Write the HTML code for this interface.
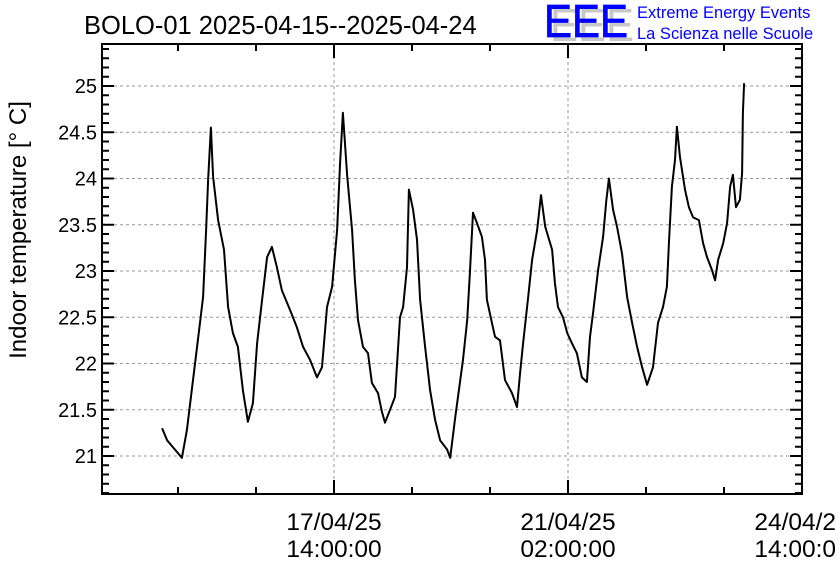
<!DOCTYPE html>
<html><head><meta charset="utf-8"><style>
html,body{margin:0;padding:0;background:#fff;}
svg{display:block;font-family:"Liberation Sans",sans-serif;}
</style></head><body>
<svg id="chart" width="836" height="572" viewBox="0 0 836 572" xmlns="http://www.w3.org/2000/svg">
<rect width="836" height="572" fill="#fff"/>
<text x="84" y="34" font-size="25.5" fill="#000">BOLO-01 2025-04-15--2025-04-24</text>
<g>
<text x="550" y="41" font-size="46" fill="#c8c8c8" textLength="84" lengthAdjust="spacingAndGlyphs">EEE</text>
<text x="544" y="37" font-size="46" fill="#0000ff" stroke="#0000ff" stroke-width="0.8" textLength="84" lengthAdjust="spacingAndGlyphs">EEE</text>
<text x="637" y="18" font-size="16.5" fill="#0000ff">Extreme Energy Events</text>
<text x="637" y="39" font-size="16.5" fill="#0000ff">La Scienza nelle Scuole</text>
</g>
<text transform="translate(26,230) rotate(-90)" text-anchor="middle" font-size="24" fill="#000">Indoor temperature [° C]</text>
<g id="grid"></g>
<g id="axes"></g>
<g id="series"></g>
</svg>
<script>
const hours = [22.3,24.1,26.9,29.4,31.2,33.4,35.9,37.0,38.1,38.8,39.8,40.6,42.4,44.5,46.0,47.7,49.5,51.3,53.1,54.9,56.4,58.2,60.0,61.7,63.5,65.3,68.2,70.7,72.9,75.4,77.9,79.7,81.5,83.3,85.1,86.2,87.2,88.7,90.5,91.5,92.6,94.4,96.2,97.6,99.8,101.2,102.3,104.1,105.9,107.7,108.8,110.2,110.9,112.4,113.8,114.9,116.7,118.5,120.3,122.1,124.6,125.7,127.4,128.5,130.3,131.8,132.8,133.9,135.3,137.1,138.2,138.9,140.7,141.8,143.6,145.4,147.9,149.7,150.8,151.9,153.7,155.1,156.9,158.3,159.8,162.3,163.3,164.4,166.2,167.7,169.4,171.2,173.0,174.8,175.9,177.0,178.8,180.6,181.7,182.7,184.2,185.6,187.4,189.2,191.0,192.8,194.6,196.4,198.5,200.3,202.1,203.5,204.3,205.3,206.4,207.1,208.2,210.0,211.4,212.9,215.0,216.5,217.9,219.7,220.8,221.9,223.7,225.1,226.2,227.2,228.3,229.7,230.5,230.8,231.2];
const temps = [21.30,21.17,21.07,20.98,21.28,21.82,22.44,22.72,23.44,23.98,24.55,24.02,23.55,23.23,22.61,22.33,22.18,21.71,21.37,21.57,22.22,22.69,23.15,23.26,23.04,22.79,22.58,22.39,22.18,22.04,21.85,21.96,22.61,22.83,23.44,24.17,24.71,24.04,23.44,22.90,22.47,22.18,22.11,21.79,21.68,21.48,21.36,21.50,21.64,22.50,22.61,23.04,23.88,23.66,23.34,22.69,22.18,21.71,21.39,21.17,21.07,20.98,21.39,21.64,22.04,22.47,22.98,23.63,23.52,23.37,23.12,22.69,22.44,22.29,22.25,21.82,21.68,21.53,21.90,22.22,22.72,23.12,23.44,23.82,23.48,23.23,22.87,22.61,22.50,22.33,22.22,22.11,21.85,21.80,22.29,22.55,23.01,23.37,23.75,24.00,23.66,23.48,23.19,22.72,22.44,22.18,21.96,21.77,21.96,22.44,22.61,22.83,23.34,23.91,24.20,24.56,24.23,23.88,23.69,23.58,23.55,23.30,23.15,23.01,22.90,23.12,23.30,23.52,23.91,24.04,23.69,23.77,24.06,24.71,25.03];
const yTicks = [21,21.5,22,22.5,23,23.5,24,24.5,25];
const yTickLabels = ["21","21.5","22","22.5","23","23.5","24","24.5","25"];
const xMajor = [84,168,252];
const xMajorLabels1 = ["17/04/25","21/04/25","24/04/25"];
const xMajorLabels2 = ["14:00:00","02:00:00","14:00:00"];
const xMinor = [28,56,112,140,196,224];

const L=102,R=802,T=44,B=494;
const X = h => 100 + h*234/84;
const Y = v => 456 - (v-21)*92.5;
const NS="http://www.w3.org/2000/svg";
function mk(tag, parent, attrs){const e=document.createElementNS(NS,tag);for(const k in attrs)e.setAttribute(k,attrs[k]);parent.appendChild(e);return e;}
const grid=document.getElementById('grid'), axes=document.getElementById('axes'), series=document.getElementById('series');

yTicks.forEach((v,i)=>{
  const g=mk('line',grid,{x1:L,x2:R,y1:Y(v),y2:Y(v),stroke:'#999','stroke-width':1,'stroke-dasharray':'3,3'});
  
  
  const t=mk('text',axes,{x:97,y:Y(v)+7,'text-anchor':'end','font-size':20,fill:'#000'});
  t.textContent=yTickLabels[i];
  
  
});
xMajor.forEach((h,i)=>{
  if (X(h) < R-1){
    const g=mk('line',grid,{x1:X(h),x2:X(h),y1:T,y2:B,stroke:'#999','stroke-width':1,'stroke-dasharray':'3,3'});
    
    
  }
  mk('line',axes,{x1:X(h),x2:X(h),y1:B,y2:B-14,stroke:'#000','stroke-width':2});
  mk('line',axes,{x1:X(h),x2:X(h),y1:T,y2:T+14,stroke:'#000','stroke-width':2});
  const t1=mk('text',axes,{x:X(h),y:530,'text-anchor':'middle','font-size':24.5,fill:'#000'});
  t1.textContent=xMajorLabels1[i];
  
  
  const t2=mk('text',axes,{x:X(h),y:557,'text-anchor':'middle','font-size':24.5,fill:'#000'});
  t2.textContent=xMajorLabels2[i];
  
  
});
xMinor.forEach(h=>{
  mk('line',axes,{x1:X(h),x2:X(h),y1:B,y2:B-7,stroke:'#000','stroke-width':2});
  mk('line',axes,{x1:X(h),x2:X(h),y1:T,y2:T+7,stroke:'#000','stroke-width':2});
});
for(let k=206;k<=254;k++){
  const v=k/10, y=Y(v); if(y<T+1||y>B-1) continue;
  const major = k%5===0, len = major?12:7;
  mk('line',axes,{x1:L,x2:L+len,y1:y,y2:y,stroke:'#000','stroke-width':2});
  mk('line',axes,{x1:R,x2:R-len,y1:y,y2:y,stroke:'#000','stroke-width':2});
}
const frame=mk('rect',axes,{x:L,y:T,width:R-L,height:B-T,fill:'none',stroke:'#000','stroke-width':2});



let d='';
hours.forEach((h,i)=>{ d += (i?'L':'M')+X(h).toFixed(1)+','+Y(temps[i]).toFixed(1); });
const p=mk('path',series,{d:d,fill:'none',stroke:'#000','stroke-width':2,'stroke-linejoin':'round'});


</script>
</body></html>
